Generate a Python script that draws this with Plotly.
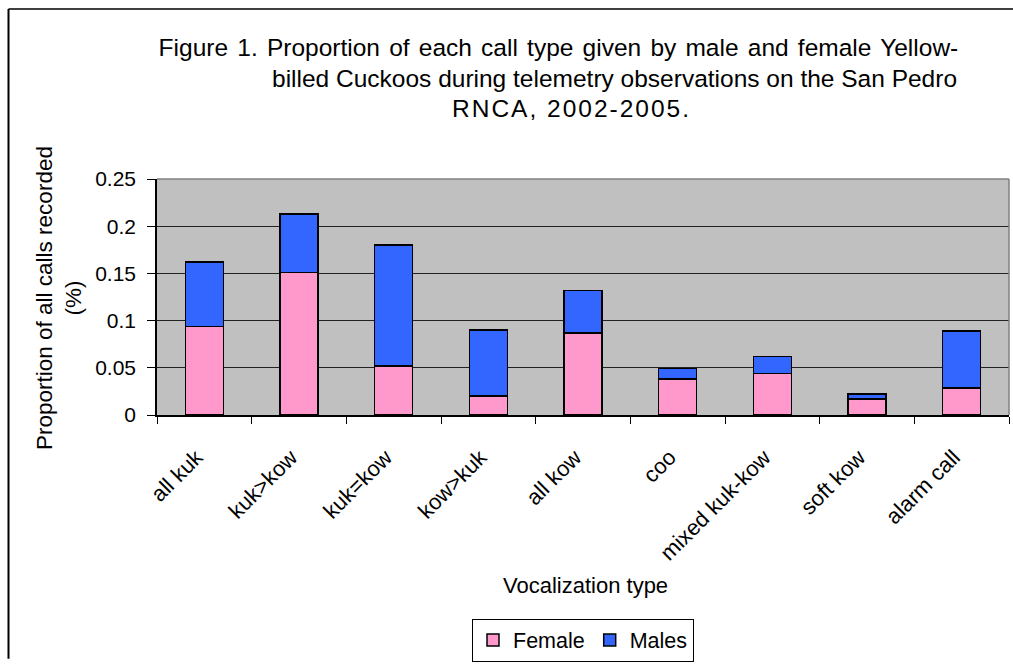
import plotly.graph_objects as go

categories = ["all kuk", "kuk>kow", "kuk=kow", "kow>kuk", "all kow", "coo",
              "mixed kuk-kow", "soft kow", "alarm call"]
female = [0.094, 0.151, 0.052, 0.020, 0.087, 0.038, 0.044, 0.017, 0.0285]
males = [0.068, 0.062, 0.128, 0.070, 0.045, 0.011, 0.018, 0.005, 0.0605]
y_ticks = [0, 0.05, 0.1, 0.15, 0.2, 0.25]
y_tick_labels = ["0", "0.05", "0.1", "0.15", "0.2", "0.25"]

FONT = "Liberation Sans, Arial, sans-serif"

fig = go.Figure()
fig.add_trace(go.Bar(x=categories, y=female, name="Female",
                     marker=dict(color="#FF99CC", line=dict(color="black", width=1.5))))
fig.add_trace(go.Bar(x=categories, y=males, name="Males",
                     marker=dict(color="#3366FF", line=dict(color="black", width=1.5))))

W, H = 1013, 665
L, R, T, B = 157, 4, 179, 246
pw, ph = W - L - R, H - T - B

def px(x):
    return (x - L) / pw

def py(y):
    return (H - B - y) / ph

fig.update_layout(
    width=W, height=H,
    margin=dict(l=L, r=R, t=T, b=B, pad=0),
    barmode="stack", bargap=0.6,
    plot_bgcolor="#C0C0C0", paper_bgcolor="white",
    font=dict(family=FONT, size=21, color="black"),
    showlegend=True,
    legend=dict(orientation="h", x=px(583), xanchor="center", y=py(626), yanchor="top",
                bordercolor="black", borderwidth=1, bgcolor="white",
                traceorder="normal", font=dict(size=21.5),
                itemwidth=30, tracegroupgap=0),
    xaxis=dict(showline=True, linecolor="black", linewidth=1.5,
               ticks="outside", tickson="boundaries", ticklen=7, tickcolor="black",
               tickangle=-45, showgrid=False, tickfont=dict(size=22),
               ticklabelstandoff=19, ticklabelshift=-8),
    yaxis=dict(range=[0, 0.25], tickvals=y_ticks, ticktext=y_tick_labels,
               showline=True, linecolor="black", linewidth=1.5,
               ticks="outside", ticklen=8, tickcolor="black",
               showgrid=True, gridcolor="#222222", gridwidth=1,
               zeroline=False, tickfont=dict(size=21), ticklabelstandoff=7),
)

title_font = dict(family=FONT, size=24.5, color="black")
annotations = [
    dict(text="Figure 1. Proportion of each call type given by male and female Yellow-",
         x=px(558.5), y=py(45), font=title_font),
    dict(text="billed Cuckoos during telemetry observations on the San Pedro",
         x=px(614), y=py(77), font=title_font),
    dict(text="RNCA, 2002-2005.", x=px(571), y=py(107), font=title_font),
    dict(text="Vocalization type", x=px(585), y=py(592),
         font=dict(family=FONT, size=22, color="black")),
    dict(text="Proportion of all calls recorded<br>(%)", x=px(59), y=py(300), textangle=-90,
         font=dict(family=FONT, size=22.5, color="black")),
]
for a in annotations:
    fig.add_annotation(xref="paper", yref="paper", showarrow=False,
                       xanchor="center", yanchor="middle", **a)

# plot-area outline (top, right) and figure frame (left, top)
fig.add_shape(type="line", xref="paper", yref="paper", x0=0, y0=1, x1=1, y1=1,
              line=dict(color="#808080", width=1.5))
fig.add_shape(type="line", xref="paper", yref="paper", x0=1, y0=1, x1=1, y1=0,
              line=dict(color="#808080", width=1.5))
fig.add_shape(type="line", xref="paper", yref="paper", x0=px(8.5), y0=py(6), x1=px(8.5), y1=py(H + 2),
              line=dict(color="black", width=2))
fig.add_shape(type="line", xref="paper", yref="paper", x0=px(8.5), y0=py(6), x1=px(W + 2), y1=py(6),
              line=dict(color="black", width=1.5))

post = """
var de = document.documentElement, b = document.body;
[de, b].forEach(function(e){ e.style.margin='0'; e.style.padding='0';
  e.style.overflow='hidden'; e.style.height='665px'; e.style.lineHeight='0'; });
document.querySelectorAll('.svg-container').forEach(function(e){ e.style.display='block'; });
document.querySelectorAll('text.annotation-text').forEach(function(t){
  var s = t.textContent;
  if (s.indexOf('Figure 1.') === 0) { t.style.wordSpacing = '2.4px'; }
  if (s.indexOf('RNCA') === 0) { t.style.letterSpacing = '2px'; }
});
"""
fig.write_html("out.html", config={"displayModeBar": False}, post_script=post)
